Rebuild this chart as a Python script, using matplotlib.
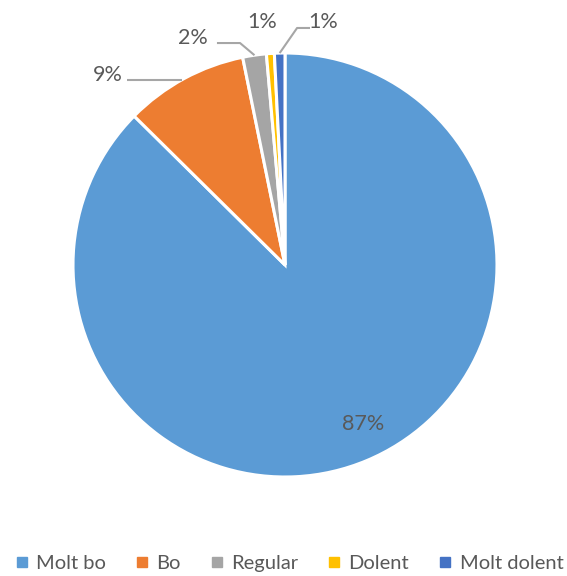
import numpy as np
import matplotlib.pyplot as plt
from matplotlib.lines import Line2D

categories = ['Molt bo', 'Bo', 'Regular', 'Dolent', 'Molt dolent']
values = [87.4, 9.4, 1.8, 0.6, 0.8]
labels = ['87%', '9%', '2%', '1%', '1%']
colors = ['#5B9BD5', '#ED7D31', '#A5A5A5', '#FFC000', '#4472C4']

txt_color = '#595959'
line_color = '#A6A6A6'
plt.rcParams['font.family'] = ['Lato', 'DejaVu Sans']

fig = plt.figure(figsize=(5.67, 5.76), dpi=100)
cx, cy, r = 285, 265, 212
ax = fig.add_axes([(cx - r) / 567, (576 - cy - r) / 576, 2 * r / 567, 2 * r / 576])

wedges, _ = ax.pie(values, colors=colors, startangle=90, counterclock=False,
                   wedgeprops=dict(edgecolor='white', linewidth=2.2))
ax.set_xlim(-1, 1)
ax.set_ylim(-1, 1)
ax.set_aspect('equal')

# label layout (radius units): text position, leader start, leader elbow
label_pos = [(0.37, -0.75), (-0.835, 0.896), (-0.434, 1.071), (-0.108, 1.146), (0.179, 1.146)]
leader_start = [None, (-0.745, 0.875), (-0.321, 1.047), None, (0.118, 1.118)]
leader_elbow = [None, None, (-0.212, 1.047), None, (0.057, 1.118)]

for w, lab, pos, st, el in zip(wedges, labels, label_pos, leader_start, leader_elbow):
    ax.text(pos[0], pos[1], lab, ha='center', va='center', fontsize=15.5, color=txt_color)
    if st is None:
        continue
    mid = np.deg2rad((w.theta1 + w.theta2) / 2)
    xs, ys = [st[0]], [st[1]]
    if el is not None:
        xs.append(el[0])
        ys.append(el[1])
        end = (np.cos(mid), np.sin(mid))
    else:
        # horizontal leader ends where it meets the arc
        end = (-np.sqrt(1 - st[1] ** 2), st[1])
    xs.append(end[0])
    ys.append(end[1])
    ax.plot(xs, ys, color=line_color, lw=1.5, clip_on=False, solid_capstyle='butt')

handles = [Line2D([], [], marker='s', linestyle='none', markersize=7,
                  markerfacecolor=c, markeredgecolor=c) for c in colors]
fig.legend(handles, categories, loc='lower center', ncol=5, frameon=False,
           fontsize=14.5, labelcolor=txt_color, handlelength=0.7, handletextpad=0.35,
           columnspacing=1.45, bbox_to_anchor=(0.51, -0.024))

fig.savefig('out.png', dpi=100)
